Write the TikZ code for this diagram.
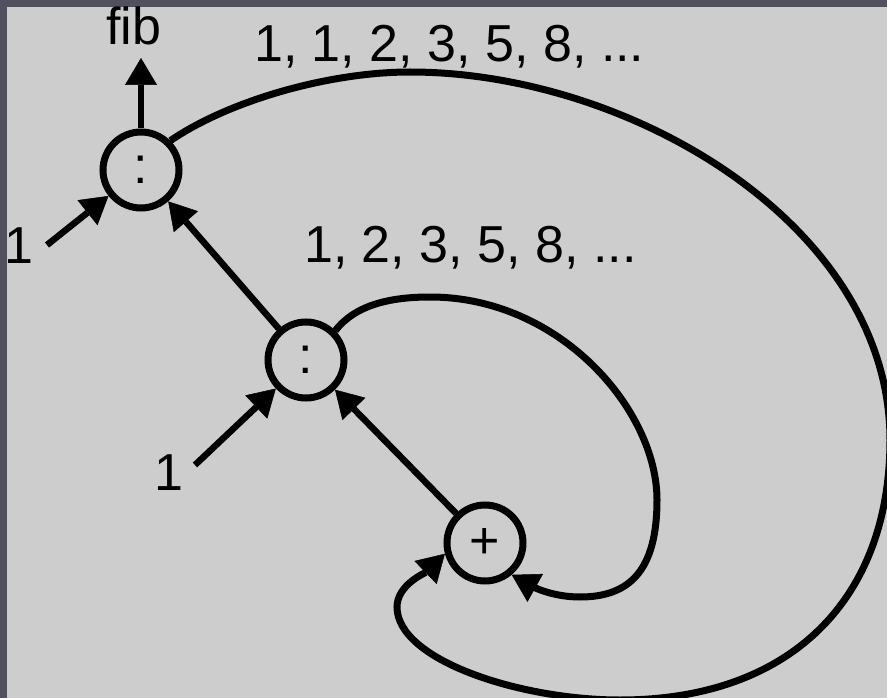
\documentclass[tikz,border=0pt]{standalone}
\usepackage{fontspec}
\setmainfont{Liberation Sans}
\usetikzlibrary{arrows.meta}
\definecolor{frame}{HTML}{50505E}
\definecolor{paper}{HTML}{CDCDCD}
\begin{document}
\begin{tikzpicture}[x=1pt,y=-1pt,
  op/.style={circle,draw,line width=7pt,minimum size=76pt,inner sep=0pt,font=\fontsize{52}{56}\selectfont},
  lbl/.style={inner sep=0pt,font=\fontsize{52}{60}\selectfont},
  tip/.style={-{Triangle[length=27pt,width=32pt,line width=0.5pt]}},
  arr/.style={line width=6.5pt,tip},
  loopline/.style={line width=7pt,tip},
]
\fill[frame] (0,0) rectangle (887,698);
\fill[paper] (7,7) rectangle (887,698);
\useasboundingbox (0,0) rectangle (887,698);

\node[op] (A) at (141,170) {:};
\node[op] (B) at (306,360) {:};
\node[op] (C) at (485,543) {+};

\node[lbl,anchor=base west] (fib) at (106,45) {fib};
\node[lbl,anchor=base west] (seq1) at (254,62) {1, 1, 2, 3, 5, 8, ...};
\node[lbl,anchor=base west] (seq2) at (304,262) {1, 2, 3, 5, 8, ...};
\node[lbl,anchor=base west] (one1) at (4,263) {1};
\node[lbl,anchor=base west] (one2) at (154,490) {1};

\coordinate (s1) at (47,245);
\coordinate (s2) at (195,465);
\coordinate (fibtip) at (141,58);

\draw[arr] (A) -- (fibtip);
\draw[arr] (s1) -- (A);
\draw[arr] (s2) -- (B);
\draw[arr] (B) -- (A);
\draw[arr] (C) -- (B);

\begin{scope}
\clip (7,7) rectangle (887,698);
\draw[loopline] (A.45) .. controls (230,100) and (330,72) .. (410,72)
  .. controls (630,72) and (890,225) .. (890,440)
  .. controls (890,600) and (790,700) .. (620,700)
  .. controls (520,700) and (397,660) .. (397,607)
  .. controls (397,585) and (425,573) .. (C.195);
\draw[loopline] (B.45) .. controls (355,305) and (390,297) .. (430,297)
  .. controls (560,297) and (657,410) .. (657,500)
  .. controls (657,570) and (630,597) .. (580,597)
  .. controls (550,597) and (530,585) .. (C.310);
\end{scope}
\end{tikzpicture}
\end{document}
